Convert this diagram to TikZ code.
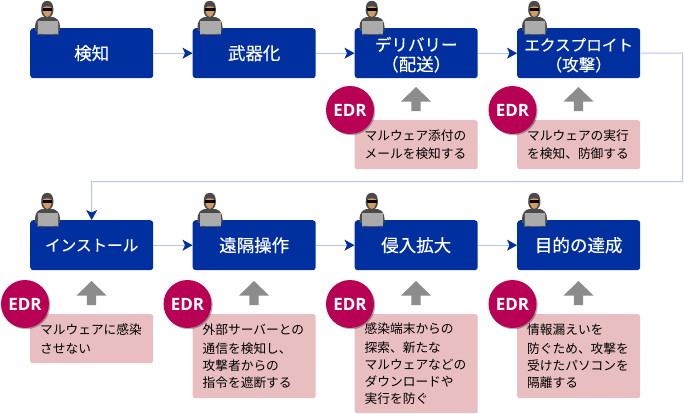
\documentclass[tikz,border=0pt]{standalone}
\usepackage{fontspec}
\usetikzlibrary{arrows.meta,shadows,positioning}
\setmainfont{Noto Sans CJK JP}
\newfontfamily\edrfont{Open Sans Bold}
\newfontfamily\titlefont{Noto Sans CJK JP}[FakeBold=0.35]
\definecolor{stageblue}{HTML}{0030A0}
\definecolor{linkblue}{HTML}{BAC6E8}
\definecolor{notepink}{HTML}{E8BEC0}
\definecolor{edrred}{HTML}{B80055}
\definecolor{upgray}{HTML}{8C8C8C}
\definecolor{hoodgray}{HTML}{4A4A4A}
\definecolor{skintone}{HTML}{D49A60}
\tikzset{
  x=1pt, y=-1pt,
  stage/.style={fill=stageblue, text=white, rounded corners=3pt, minimum width=123pt, minimum height=50pt,
    inner sep=0pt, anchor=north west, align=center, font=\titlefont\fontsize{17.5}{20}\selectfont},
  kana/.style={font=\titlefont\fontsize{15.6}{20}\selectfont},
  note/.style={fill=notepink, rounded corners=2.5pt, text width=103pt, inner xsep=10pt, inner ysep=0pt,
    anchor=north west, align=left, font=\fontsize{12.7}{16.8}\selectfont, text=black,
    execute at begin node={\vspace*{2pt}}},
  edr/.style={circle, fill=edrred, text=white, minimum size=48pt, inner sep=0pt,
    font=\edrfont\fontsize{17}{20}\selectfont,
    drop shadow={shadow xshift=1.2pt, shadow yshift=-1.2pt, opacity=.3, fill=black}},
  link/.style={draw=linkblue, line width=1pt,
    -{Stealth[length=10pt, width=11pt, inset=2.5pt, color=stageblue]}},
  upfill/.style={fill=upgray, draw=none},
}
% Hooded figure at a laptop; origin is the top-left corner of its stage box
\newcommand{\hooded}[2]{%
  \begin{scope}[shift={(#1,#2)}]
    \fill[hoodgray] (5,-1) .. controls (5,-7) and (8,-10) .. (12,-11)
      -- (23,-11) .. controls (27,-10) and (30,-7) .. (30,-1) -- (30,3) -- (5,3) -- cycle;
    \fill[hoodgray] (17.3,-27.2) .. controls (12.5,-27.2) and (11.2,-23) .. (11.2,-18)
      .. controls (11.2,-14) and (13,-11) .. (17.3,-9)
      .. controls (21.5,-11) and (23.4,-14) .. (23.4,-18)
      .. controls (23.4,-23) and (22,-27.2) .. (17.3,-27.2) -- cycle;
    \fill[skintone] (13.2,-20.5) .. controls (14,-22) and (20.6,-22) .. (21.4,-20.5)
      -- (21.4,-16) .. controls (21,-13) and (19,-11.5) .. (17.3,-11)
      .. controls (15.5,-11.5) and (13.6,-13) .. (13.2,-16) -- cycle;
    \fill[black] (12.6,-20) rectangle (22,-17.3);
    \fill[black!65!white] (7,-7.3) rectangle (28.5,7);
    \fill[black!33!white] (7.6,-6.7) rectangle (28,5.8);
    \fill[black!70] (9,5.8) rectangle (12.5,7) (24,5.8) rectangle (27.5,7);
  \end{scope}}
% Thick grey upward arrow; (#1,#2) is its tip
\newcommand{\uparrowmark}[2]{%
  \fill[upfill] (#1,#2) -- ++(15,14.5) -- ++(-10.3,0) -- ++(0,9.5) -- ++(-9.4,0) -- ++(0,-9.5) -- ++(-10.3,0) -- cycle;}
\begin{document}
\begin{tikzpicture}
\useasboundingbox (0,0) rectangle (684,413);
\fill[white] (0,0) rectangle (684,413);

% Attack stages, upper row
\node[stage] (s1) at (30,28) {検知};
\node[stage] (s2) at (192.5,28) {武器化};
\node[stage] (s3) at (354.5,28) {\fontsize{16.5}{20}\selectfont\rule{0pt}{17pt}デリバリー\\（配送）};
\node[stage] (s4) at (517,28) {\fontsize{15.6}{20}\selectfont\rule{0pt}{17pt}エクスプロイト\\\fontsize{16.5}{20}\selectfont（攻撃）};
% Attack stages, lower row
\node[stage,kana] (s5) at (30,220) {インストール};
\node[stage] (s6) at (192.5,220) {遠隔操作};
\node[stage] (s7) at (354.5,220) {侵入拡大};
\node[stage] (s8) at (517,220) {目的の達成};

% Links between the stages
\coordinate (turnA) at (682.7,53);
\coordinate (turnB) at (682.7,181.7);
\coordinate (turnC) at (91.5,181.7);
\draw[link] (s1.east) -- (s2.west);
\draw[link] (s2.east) -- (s3.west);
\draw[link] (s3.east) -- (s4.west);
\draw[link] (s4.east) -- (turnA) -- (turnB) -- (turnC) -- (s5.north);
\draw[link] (s5.east) -- (s6.west);
\draw[link] (s6.east) -- (s7.west);
\draw[link] (s7.east) -- (s8.west);

\foreach \px in {30,192.5,354.5,517} {\hooded{\px}{28}\hooded{\px}{220}}

% Grey arrows from the notes up to the stages
\uparrowmark{416}{87}
\uparrowmark{578.5}{87}
\uparrowmark{91.5}{281}
\uparrowmark{254}{281}
\uparrowmark{416}{281}
\uparrowmark{578.5}{281}

% EDR notes
\node[note, minimum height=49pt] (n3) at (354.5,120) {マルウェア添付の\\メールを検知する};
\node[note, minimum height=49pt] (n4) at (517,120) {マルウェアの実行\\を検知、防御する};
\node[note, minimum height=49pt] (n5) at (30,314) {マルウェアに感染\\させない};
\node[note, minimum height=84pt] (n6) at (192.5,314) {外部サーバーとの\\通信を検知し、\\攻撃者からの\\指令を遮断する};
\node[note, minimum height=99pt] (n7) at (354.5,314) {感染端末からの\\探索、新たな\\マルウェアなどの\\ダウンロードや\\実行を防ぐ};
\node[note, minimum height=84pt] (n8) at (517,314) {情報漏えいを\\防ぐため、攻撃を\\受けたパソコンを\\隔離する};

% EDR badges
\node[edr] (e3) at (350,110) {EDR};
\node[edr] (e4) at (512.5,110) {EDR};
\node[edr] (e5) at (25,304) {EDR};
\node[edr] (e6) at (187.5,304) {EDR};
\node[edr] (e7) at (350,304) {EDR};
\node[edr] (e8) at (512.5,304) {EDR};
\end{tikzpicture}
\end{document}
